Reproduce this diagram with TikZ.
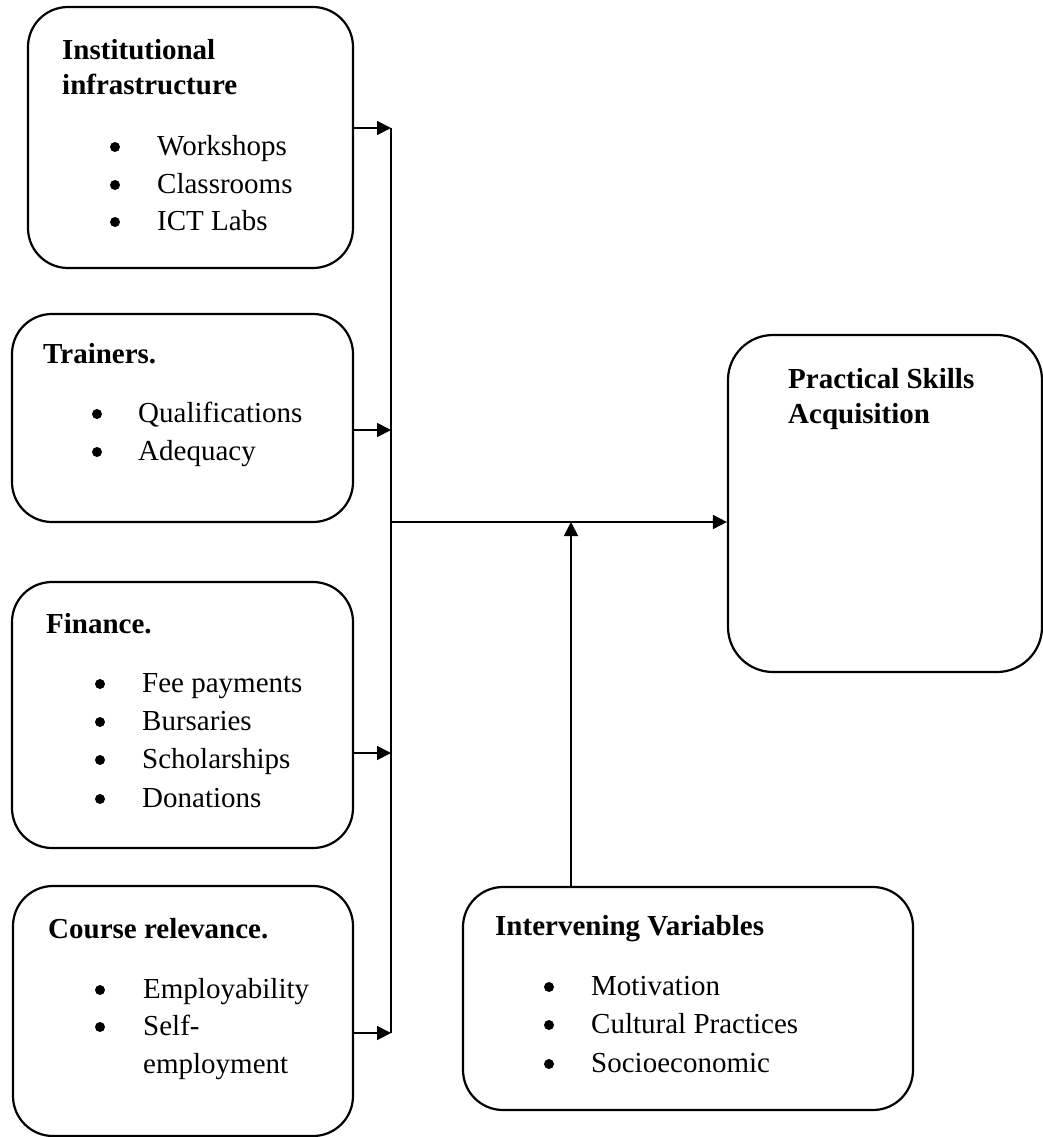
\documentclass[tikz,border=0pt]{standalone}
\usepackage{fontspec}
\setmainfont{Liberation Serif}
\usetikzlibrary{arrows.meta}
\begin{document}
\begin{tikzpicture}[x=1pt,y=-1pt,
  box/.style={draw, line width=2.2pt, rounded corners=40pt, inner sep=0pt},
  txt/.style={anchor=base west, inner sep=0pt, font=\fontsize{29}{38}\selectfont},
  head/.style={txt, font=\fontsize{29}{38}\selectfont\bfseries},
  bul/.style={circle, fill, inner sep=0pt, minimum size=10pt, yshift=8pt},
  conn/.style={line width=1.8pt},
  arr/.style={line width=1.8pt, -{Triangle[length=14pt,width=14pt]}}]
\useasboundingbox (0,0) rectangle (1043,1137);
% boxes
\node[box, minimum width=325pt, minimum height=261pt] (b1) at (190.5,137.5) {};
\node[box, minimum width=341pt, minimum height=208pt] (b2) at (182.5,418) {};
\node[box, minimum width=341pt, minimum height=266pt] (b3) at (182.5,715) {};
\node[box, minimum width=340pt, minimum height=250pt] (b4) at (183,1011) {};
\node[box, minimum width=314pt, minimum height=337pt, rounded corners=45pt] (b5) at (885,503.5) {};
\node[box, minimum width=450pt, minimum height=223pt] (b6) at (688,998.5) {};
% box 1 text
\node[head] (h1a) at (62,60) {Institutional};
\node[head] (h1b) at (62,95) {infrastructure};
\node[bul] (u1a) at (115,155) {};
\node[bul] (u1b) at (115,193) {};
\node[bul] (u1c) at (115,230) {};
\node[txt] (t1a) at (157,155) {Workshops};
\node[txt] (t1b) at (157,193) {Classrooms};
\node[txt] (t1c) at (157,230) {ICT Labs};
% box 2 text
\node[head] (h2) at (43,363) {Trainers.};
\node[bul] (u2a) at (97,422) {};
\node[bul] (u2b) at (97,460) {};
\node[txt] (t2a) at (138,422) {Qualifications};
\node[txt] (t2b) at (138,460) {Adequacy};
% box 3 text
\node[head] (h3) at (46,633) {Finance.};
\node[bul] (u3a) at (100,692) {};
\node[bul] (u3b) at (100,730) {};
\node[bul] (u3c) at (100,768) {};
\node[bul] (u3d) at (100,807) {};
\node[txt] (t3a) at (142,692) {Fee payments};
\node[txt] (t3b) at (142,730) {Bursaries};
\node[txt] (t3c) at (142,768) {Scholarships};
\node[txt] (t3d) at (142,807) {Donations};
% box 4 text
\node[head] (h4) at (48,938) {Course relevance.};
\node[bul] (u4a) at (100,998) {};
\node[bul] (u4b) at (100,1035) {};
\node[txt] (t4a) at (143,998) {Employability};
\node[txt] (t4b) at (143,1035) {Self-};
\node[txt] (t4c) at (143,1073) {employment};
% box 5 text
\node[head] (h5a) at (788,388) {Practical Skills};
\node[head] (h5b) at (788,423) {Acquisition};
% box 6 text
\node[head] (h6) at (495,935) {Intervening Variables};
\node[bul] (u6a) at (549,995) {};
\node[bul] (u6b) at (549,1033) {};
\node[bul] (u6c) at (549,1072) {};
\node[txt] (t6a) at (591,995) {Motivation};
\node[txt] (t6b) at (591,1033) {Cultural Practices};
\node[txt] (t6c) at (591,1072) {Socioeconomic};
% connectors
\coordinate (p1) at (391,128);
\coordinate (p2) at (391,430);
\coordinate (p3) at (391,753);
\coordinate (p4) at (391,1033);
\coordinate (pj) at (391,522);
\coordinate (pm) at (571,522);
\draw[conn] (p1) -- (p4);
\draw[arr] (p1 -| b1.east) -- (p1);
\draw[arr] (p2 -| b2.east) -- (p2);
\draw[arr] (p3 -| b3.east) -- (p3);
\draw[arr] (p4 -| b4.east) -- (p4);
\draw[arr] (pj) -- (pj -| b5.west);
\draw[arr] (pm |- b6.north) -- (pm);
\end{tikzpicture}
\end{document}
